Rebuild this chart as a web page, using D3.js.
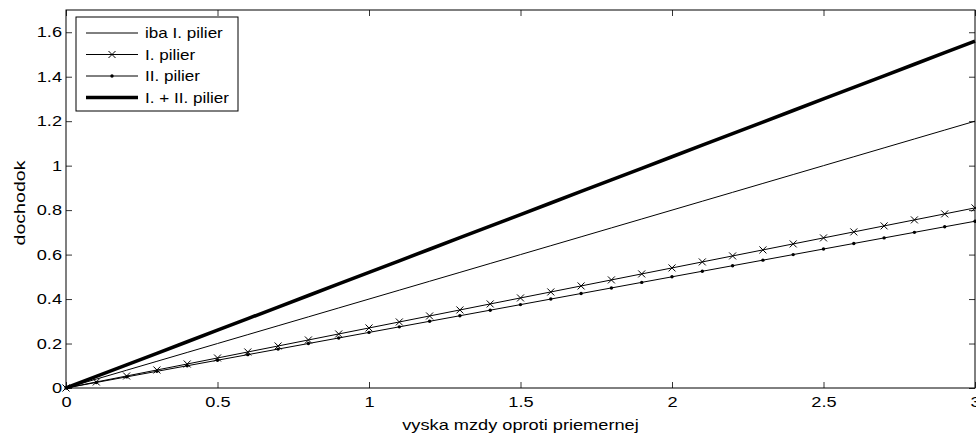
<!DOCTYPE html>
<html>
<head>
<meta charset="utf-8">
<script src="https://cdn.jsdelivr.net/npm/d3@7"></script>
<style>
  html, body { margin: 0; padding: 0; background: #fff; }
  svg { display: block; font-family: "Liberation Sans", Arial, sans-serif; }
</style>
</head>
<body>
<svg id="chart" width="976" height="436"></svg>
<script>
// Relative wage (multiple of the average wage)
const wageLevels = [0, 0.1, 0.2, 0.3, 0.4, 0.5, 0.6, 0.7, 0.8, 0.9, 1.0,
  1.1, 1.2, 1.3, 1.4, 1.5, 1.6, 1.7, 1.8, 1.9, 2.0,
  2.1, 2.2, 2.3, 2.4, 2.5, 2.6, 2.7, 2.8, 2.9, 3.0];

// Pension under the first pillar only
const ibaPrvyPilier = [0, 0.04, 0.08, 0.12, 0.16, 0.2, 0.24, 0.28, 0.32, 0.36, 0.4,
  0.44, 0.48, 0.52, 0.56, 0.6, 0.64, 0.68, 0.72, 0.76, 0.8,
  0.84, 0.88, 0.92, 0.96, 1.0, 1.04, 1.08, 1.12, 1.16, 1.2];

// First pillar share in the combined system
const prvyPilier = [0, 0.027, 0.054, 0.081, 0.108, 0.135, 0.162, 0.189, 0.216, 0.243, 0.27,
  0.297, 0.324, 0.351, 0.378, 0.405, 0.432, 0.459, 0.486, 0.513, 0.54,
  0.567, 0.594, 0.621, 0.648, 0.675, 0.702, 0.729, 0.756, 0.783, 0.81];

// Second pillar share
const druhyPilier = [0, 0.025, 0.05, 0.075, 0.1, 0.125, 0.15, 0.175, 0.2, 0.225, 0.25,
  0.275, 0.3, 0.325, 0.35, 0.375, 0.4, 0.425, 0.45, 0.475, 0.5,
  0.525, 0.55, 0.575, 0.6, 0.625, 0.65, 0.675, 0.7, 0.725, 0.75];

// Combined first + second pillar
const spoluPiliere = [0, 0.052, 0.104, 0.156, 0.208, 0.26, 0.312, 0.364, 0.416, 0.468, 0.52,
  0.572, 0.624, 0.676, 0.728, 0.78, 0.832, 0.884, 0.936, 0.988, 1.04,
  1.092, 1.144, 1.196, 1.248, 1.3, 1.352, 1.404, 1.456, 1.508, 1.56];

const xTicks = [0, 0.5, 1, 1.5, 2, 2.5, 3];
const yTicks = [0, 0.2, 0.4, 0.6, 0.8, 1, 1.2, 1.4, 1.6];
const seriesNames = ["iba I. pilier", "I. pilier", "II. pilier", "I. + II. pilier"];

const plotLeft = 66, plotRight = 975, plotTop = 10, plotBottom = 388;
const svg = d3.select("#chart");

const x = d3.scaleLinear().domain([0, 3]).range([plotLeft, plotRight]);
const y = d3.scaleLinear().domain([0, 1.7]).range([plotBottom, plotTop]);

const tickLen = 6;
const labelSize = "14px";
const wide = 1.3;   // horizontal widening of the label glyphs
const fmt = d => String(d);

// Widen text horizontally around its own anchor point
const stretchX = (sel, sx) => sel.each(function () {
  const t = d3.select(this);
  const x0 = +(t.attr("x") || 0);
  const prev = t.attr("transform") || "";
  t.attr("transform", `${prev} translate(${x0},0) scale(${sx},1) translate(${-x0},0)`);
});

// Axes with inward ticks on all four sides
const axisStyle = g => {
  g.select(".domain").remove();
  g.selectAll(".tick line").attr("stroke", "#000").attr("stroke-width", 0.8);
  g.selectAll(".tick text").attr("fill", "#000").style("font-size", labelSize)
    .style("font-family", "Liberation Sans, Arial, sans-serif")
    .call(stretchX, wide);
};

svg.append("g").attr("transform", `translate(0,${plotBottom})`)
  .call(d3.axisBottom(x).tickValues(xTicks).tickFormat(fmt).tickSizeInner(-tickLen).tickSizeOuter(0).tickPadding(9))
  .call(axisStyle);
svg.append("g").attr("transform", `translate(0,${plotTop})`)
  .call(d3.axisTop(x).tickValues(xTicks).tickFormat("").tickSizeInner(-tickLen).tickSizeOuter(0))
  .call(axisStyle);
svg.append("g").attr("transform", `translate(${plotLeft},0)`)
  .call(d3.axisLeft(y).tickValues(yTicks).tickFormat(fmt).tickSizeInner(-tickLen).tickSizeOuter(0).tickPadding(4))
  .call(axisStyle);
svg.append("g").attr("transform", `translate(${plotRight},0)`)
  .call(d3.axisRight(y).tickValues(yTicks).tickFormat("").tickSizeInner(-tickLen).tickSizeOuter(0))
  .call(axisStyle);

// Plot frame
svg.append("rect")
  .attr("x", plotLeft).attr("y", plotTop)
  .attr("width", plotRight - plotLeft).attr("height", plotBottom - plotTop)
  .attr("fill", "none").attr("stroke", "#000").attr("stroke-width", 1);

const line = vals => d3.line()
  .x((d, i) => x(wageLevels[i]))
  .y(d => y(d))(vals);

const plot = svg.append("g");

plot.append("path").attr("d", line(ibaPrvyPilier))
  .attr("fill", "none").attr("stroke", "#000").attr("stroke-width", 1);
plot.append("path").attr("d", line(prvyPilier))
  .attr("fill", "none").attr("stroke", "#000").attr("stroke-width", 1);
plot.append("path").attr("d", line(druhyPilier))
  .attr("fill", "none").attr("stroke", "#000").attr("stroke-width", 1);
plot.append("path").attr("d", line(spoluPiliere))
  .attr("fill", "none").attr("stroke", "#000").attr("stroke-width", 3.5);

// Cross markers for the first pillar
const cross = (g, cx, cy, s) => {
  g.append("path")
    .attr("d", `M${cx - s},${cy - s}L${cx + s},${cy + s}M${cx - s},${cy + s}L${cx + s},${cy - s}`)
    .attr("stroke", "#000").attr("stroke-width", 1).attr("fill", "none");
};
prvyPilier.forEach((v, i) => cross(plot, x(wageLevels[i]), y(v), 3.5));

// Dot markers for the second pillar
plot.selectAll("circle.dot").data(druhyPilier).join("circle")
  .attr("class", "dot")
  .attr("cx", (d, i) => x(wageLevels[i]))
  .attr("cy", d => y(d))
  .attr("r", 1.7).attr("fill", "#000");

// Axis titles
svg.append("text")
  .attr("x", (plotLeft + plotRight) / 2).attr("y", 430)
  .attr("text-anchor", "middle").style("font-size", labelSize)
  .text("vyska mzdy oproti priemernej")
  .call(stretchX, wide);
svg.append("text")
  .attr("transform", `translate(25,203) rotate(-90)`)
  .attr("text-anchor", "middle").style("font-size", "15px")
  .attr("textLength", 85).attr("lengthAdjust", "spacingAndGlyphs")
  .text("dochodok");

// Legend
const lg = svg.append("g");
lg.append("rect").attr("x", 76).attr("y", 17).attr("width", 162).attr("height", 94)
  .attr("fill", "#fff").attr("stroke", "#000").attr("stroke-width", 1);
const rowY = [33, 54.5, 76, 97.5];
const widths = [1, 1, 1, 3.5];
seriesNames.forEach((name, i) => {
  lg.append("line").attr("x1", 86).attr("x2", 138).attr("y1", rowY[i]).attr("y2", rowY[i])
    .attr("stroke", "#000").attr("stroke-width", widths[i]);
  lg.append("text").attr("x", 145).attr("y", rowY[i]).attr("dy", "0.36em")
    .style("font-size", "14px").text(name)
    .call(stretchX, 1.22);
});
cross(lg, 112, rowY[1], 3.5);
lg.append("circle").attr("cx", 112).attr("cy", rowY[2]).attr("r", 1.7).attr("fill", "#000");
</script>
</body>
</html>
